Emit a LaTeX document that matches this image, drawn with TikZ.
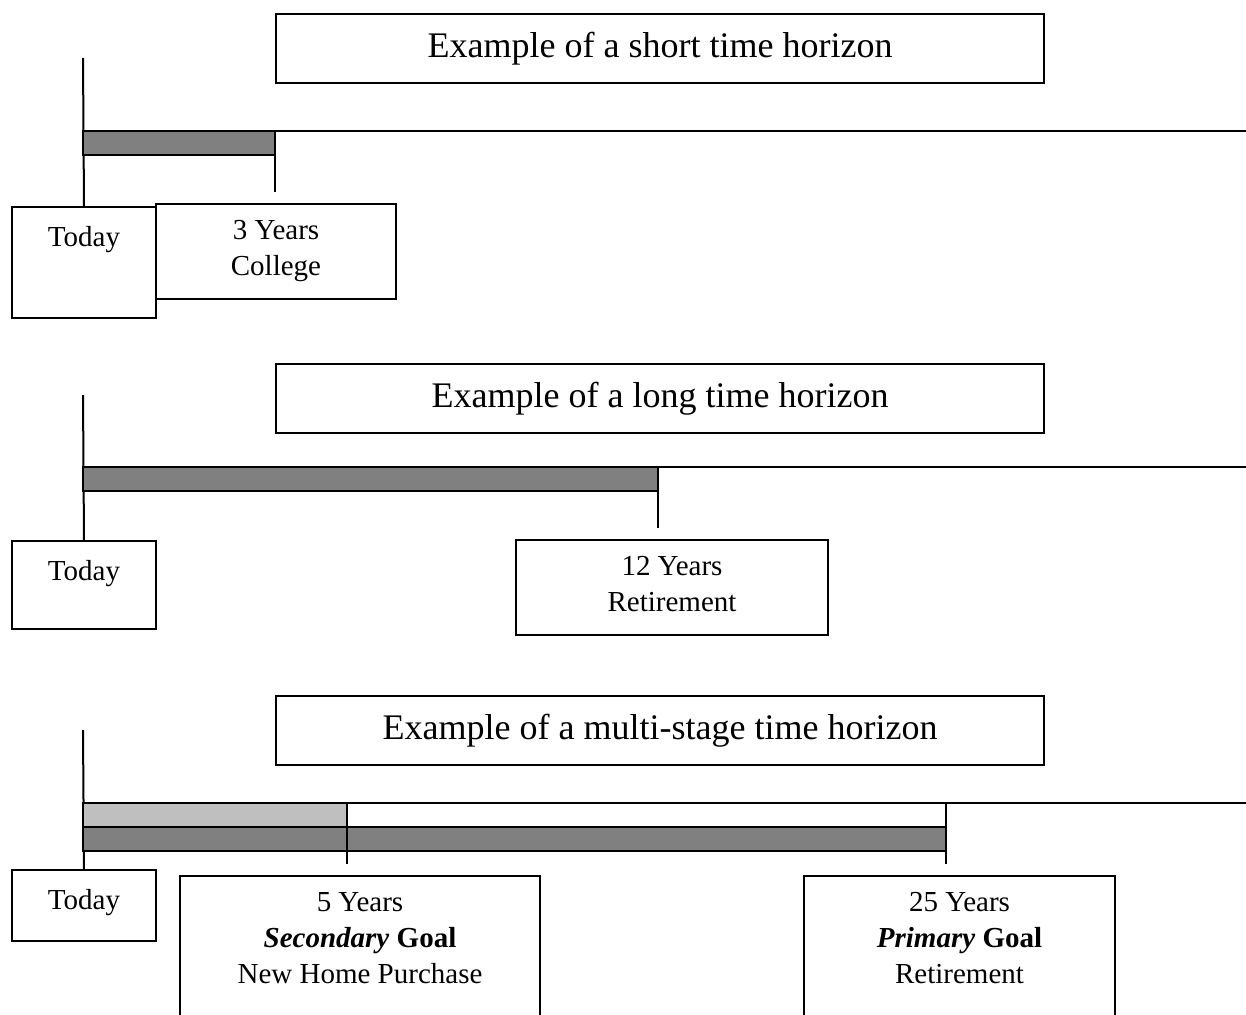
\documentclass[tikz,border=0pt]{standalone}
\usepackage{fontspec}
\setmainfont{Liberation Serif}
\usepackage{xcolor}
\usepackage{tikz}
\usetikzlibrary{positioning}

\begin{document}
\begin{tikzpicture}[x=1pt, y=-1pt, line width=2pt,
    box/.style={draw, fill=white, anchor=north west, inner sep=0pt},
    headbox/.style={box, minimum width=768pt, minimum height=69pt,
      font=\fontsize{36}{40}\selectfont},
    boxtext/.style={align=center, inner sep=0pt, font=\fontsize{29}{36}\selectfont},
    bar/.style={draw, fill=gray}]
  \clip (0,0) rectangle (1246,1014);

  % short time horizon
  \node[headbox] (head1) at (275,13) {Example of a short time horizon};
  \coordinate (top1) at (83,58);
  \node[box, minimum width=144pt, minimum height=111pt] (today1) at (11,206) {};
  \node[boxtext, below=19pt of today1.north] {Today};
  \node[box, minimum width=240pt, minimum height=95pt] (college) at (155,203) {};
  \node[boxtext, below=16pt of college.north] {3 Years\\College};
  \draw (top1) -- (today1.north);
  \draw (83,131) -- (1246,131);
  \draw[bar] (83,131) rectangle (275,155);
  \draw (275,131) -- (275,192);

  % long time horizon
  \node[headbox] (head2) at (275,363) {Example of a long time horizon};
  \coordinate (top2) at (83,395);
  \node[box, minimum width=144pt, minimum height=88pt] (today2) at (11,540) {};
  \node[boxtext, below=19pt of today2.north] {Today};
  \node[box, minimum width=312pt, minimum height=95pt] (retire1) at (515,539) {};
  \node[boxtext, below=16pt of retire1.north] {12 Years\\Retirement};
  \draw (top2) -- (today2.north);
  \draw (83,467) -- (1246,467);
  \draw[bar] (83,467) rectangle (658,491);
  \draw (658,467) -- (658,528);

  % multi-stage time horizon
  \node[headbox] (head3) at (275,695) {Example of a multi-stage time horizon};
  \coordinate (top3) at (83,730);
  \node[box, minimum width=144pt, minimum height=71pt] (today3) at (11,869) {};
  \node[boxtext, below=19pt of today3.north] {Today};
  \node[box, minimum width=360pt, minimum height=160pt] (home) at (179,875) {};
  \node[boxtext, below=16pt of home.north]
    {5 Years\\\textbf{\textit{Secondary}} \textbf{Goal}\\New Home Purchase};
  \node[box, minimum width=311pt, minimum height=160pt] (retire2) at (803,875) {};
  \node[boxtext, below=16pt of retire2.north]
    {25 Years\\\textbf{\textit{Primary}} \textbf{Goal}\\Retirement};
  \draw (top3) -- (today3.north);
  \draw (83,803) -- (1246,803);
  \draw[fill=gray!50] (83,803) rectangle (347,827);
  \draw[bar] (83,827) rectangle (946,851);
  \draw (347,803) -- (347,864);
  \draw (946,803) -- (946,864);
\end{tikzpicture}
\end{document}
